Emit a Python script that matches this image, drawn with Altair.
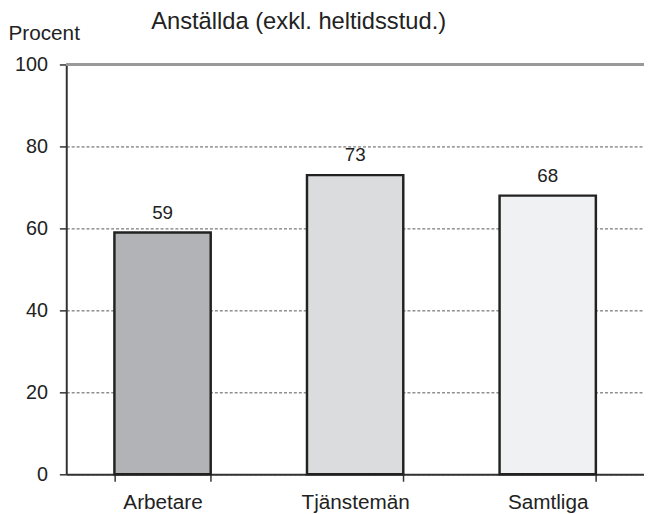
import altair as alt
import pandas as pd

categories = ["Arbetare", "Tjänstemän", "Samtliga"]
values = [59, 73, 68]
colors = ["#b2b3b6", "#dbdcdd", "#f0f1f2"]
y_ticks = [0, 20, 40, 60, 80, 100]

df = pd.DataFrame({"kat": categories, "procent": values, "farg": colors})

FONT = "Liberation Sans"

x_enc = alt.X(
    "kat:N",
    sort=categories,
    scale=alt.Scale(paddingInner=0.5, paddingOuter=0.25),
    axis=alt.Axis(
        title=None, labelAngle=0, tickBand="extent", labelFontSize=21,
        labelColor="#222", labelFont=FONT, domainColor="#333", domainWidth=2,
        tickColor="#333", tickWidth=1.5, tickSize=7, labelPadding=11, grid=False,
    ),
)
y_scale = alt.Scale(domain=[0, 100], nice=False)

bars = alt.Chart(df).mark_bar(stroke="#222", strokeWidth=2.5).encode(
    x=x_enc,
    y=alt.Y(
        "procent:Q", scale=y_scale,
        axis=alt.Axis(
            values=y_ticks, title="Procent", titleAngle=0, titleX=-59, titleY=-25,
            titleAlign="left", titleBaseline="alphabetic", titleFontSize=21,
            titleFontWeight="normal", titleFont=FONT, titleColor="#222",
            labelFontSize=20, labelFont=FONT, labelColor="#222", labelPadding=12,
            domainColor="#333", domainWidth=2, tickColor="#333", tickWidth=1.5,
            tickSize=7, grid=True, gridDash=[3, 2], gridColor="#555",
            gridWidth=1,
        ),
    ),
    color=alt.Color("farg:N", scale=None),
)

top_line = alt.Chart(df).mark_rule(color="#999", strokeWidth=2.5).encode(
    y=alt.datum(100)
)

labels = alt.Chart(df).mark_text(
    dy=-20, fontSize=19, font=FONT, color="#222"
).encode(
    x=alt.X("kat:N", sort=categories),
    y=alt.Y("procent:Q", scale=y_scale),
    text=alt.Text("procent:Q"),
)

chart = (
    alt.layer(bars, top_line, labels)
    .properties(
        width=585, height=415,
        title=alt.Title(
            "Anställda (exkl. heltidsstud.)", anchor="start", dx=86, dy=11,
            fontSize=24, fontWeight="normal", font=FONT, color="#222",
            frame="group", offset=0,
        ),
        autosize=alt.AutoSizeParams(type="none"),
        padding={"left": 59, "top": 54, "right": 0, "bottom": 36},
    )
    .configure_view(stroke=None)
)

chart.save("out.html", embed_options={"renderer": "svg", "actions": False})
